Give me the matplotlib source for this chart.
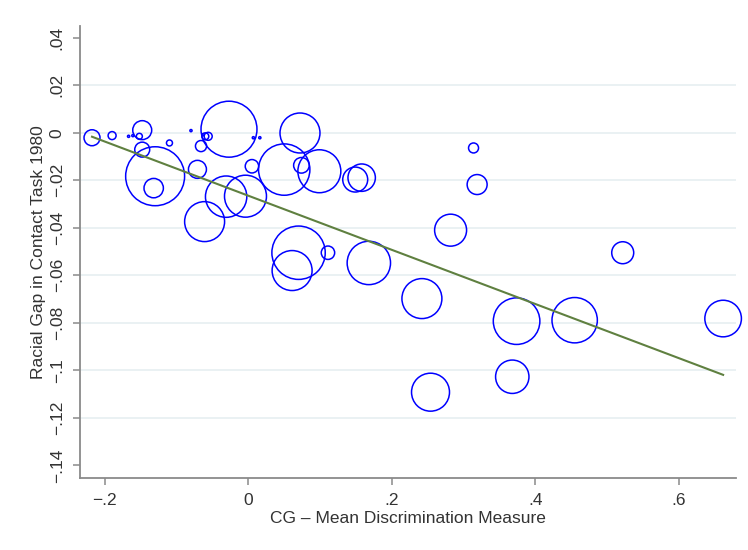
import matplotlib
matplotlib.use('Agg')

import matplotlib.pyplot as plt
import numpy as np

# Средняя мера дискриминации (CG) и расовый разрыв по регионам, вес = население
cg_measure = [-0.218, -0.190, -0.167, -0.161, -0.152, -0.148, -0.148, -0.110,
              -0.130, -0.132, -0.080, -0.063, -0.060, -0.056, -0.066, -0.027,
              -0.071, -0.061, -0.031, -0.004, 0.007, 0.016, 0.005, 0.072,
              0.050, 0.074, 0.099, 0.149, 0.158, 0.070, 0.061, 0.111,
              0.168, 0.314, 0.319, 0.282, 0.242, 0.374, 0.254, 0.368,
              0.522, 0.455, 0.662]
racial_gap = [-0.0021, -0.0012, -0.0015, -0.0012, -0.0015, 0.0011, -0.0071, -0.0043,
              -0.0183, -0.0233, 0.0009, -0.0008, -0.0015, -0.0015, -0.0056, 0.0015,
              -0.0154, -0.0374, -0.0269, -0.0267, -0.0021, -0.0021, -0.0141, -0.0001,
              -0.0155, -0.0137, -0.0162, -0.0197, -0.0189, -0.0505, -0.0580, -0.0505,
              -0.0548, -0.0064, -0.0218, -0.0410, -0.0698, -0.0793, -0.1092, -0.1027,
              -0.0505, -0.0789, -0.0782]
pop_weight = [64, 16, 1.2, 1.2, 9, 90, 56, 9,
              870, 94, 1.2, 1.2, 12, 16, 31, 784,
              81, 400, 428, 441, 1.2, 1.2, 45, 400,
              660, 61, 462, 156, 188, 713, 400, 45,
              471, 25, 100, 256, 400, 543, 361, 279,
              121, 515, 335]

# Линейная аппроксимация (взвешенная)
fit_intercept = -0.0265
fit_slope = -0.1139

y_ticks = [0.04, 0.02, 0, -0.02, -0.04, -0.06, -0.08, -0.1, -0.12, -0.14]
x_ticks = [-0.2, 0, 0.2, 0.4, 0.6]


def stata_label(v):
    # формат Stata: без ведущего нуля, минус через U+2212
    if v == 0:
        return '0'
    s = ('%g' % abs(v)).lstrip('0')
    return ('\u2212' if v < 0 else '') + s


plt.rcParams['font.family'] = ['Liberation Sans', 'DejaVu Sans']

fig = plt.figure(figsize=(7.48, 5.5), dpi=100)
ax = fig.add_axes([0.107, 0.131, 0.877, 0.822])

x = np.array(cg_measure)
y = np.array(racial_gap)
w = np.array(pop_weight)

# сетка только по внутренним делениям, как в Stata
for t in y_ticks[1:-1]:
    ax.axhline(t, color='#e8f0f2', linewidth=1.3, zorder=0)

ax.scatter(x, y, s=w * 2.07, facecolors='none', edgecolors='#0000ff',
           linewidths=1.1, zorder=2, clip_on=False)

xs = np.array([x.min(), x.max()])
ax.plot(xs, fit_intercept + fit_slope * xs, color='#5f8040', linewidth=1.5, zorder=3)

ax.set_xlim(-0.2347, 0.680)
ax.set_ylim(-0.1453, 0.045)

ax.set_xticks(x_ticks)
ax.set_xticklabels([stata_label(v) for v in x_ticks])
ax.set_yticks(y_ticks)
ax.set_yticklabels([stata_label(v) for v in y_ticks], rotation=90, va='center')

for side in ['top', 'right']:
    ax.spines[side].set_visible(False)
for side in ['left', 'bottom']:
    ax.spines[side].set_color('#8a8a8a')
    ax.spines[side].set_linewidth(1.3)

ax.tick_params(axis='both', direction='out', length=5, width=1.1, color='#8a8a8a',
               labelsize=12.5, labelcolor='#333333', pad=6)

ax.set_xlabel('CG \u2013 Mean Discrimination Measure', fontsize=12.5, color='#333333', labelpad=2)
ax.set_ylabel('Racial Gap in Contact Task 1980', fontsize=12.5, color='#333333', labelpad=3)

plt.savefig('out.png', dpi=100)
